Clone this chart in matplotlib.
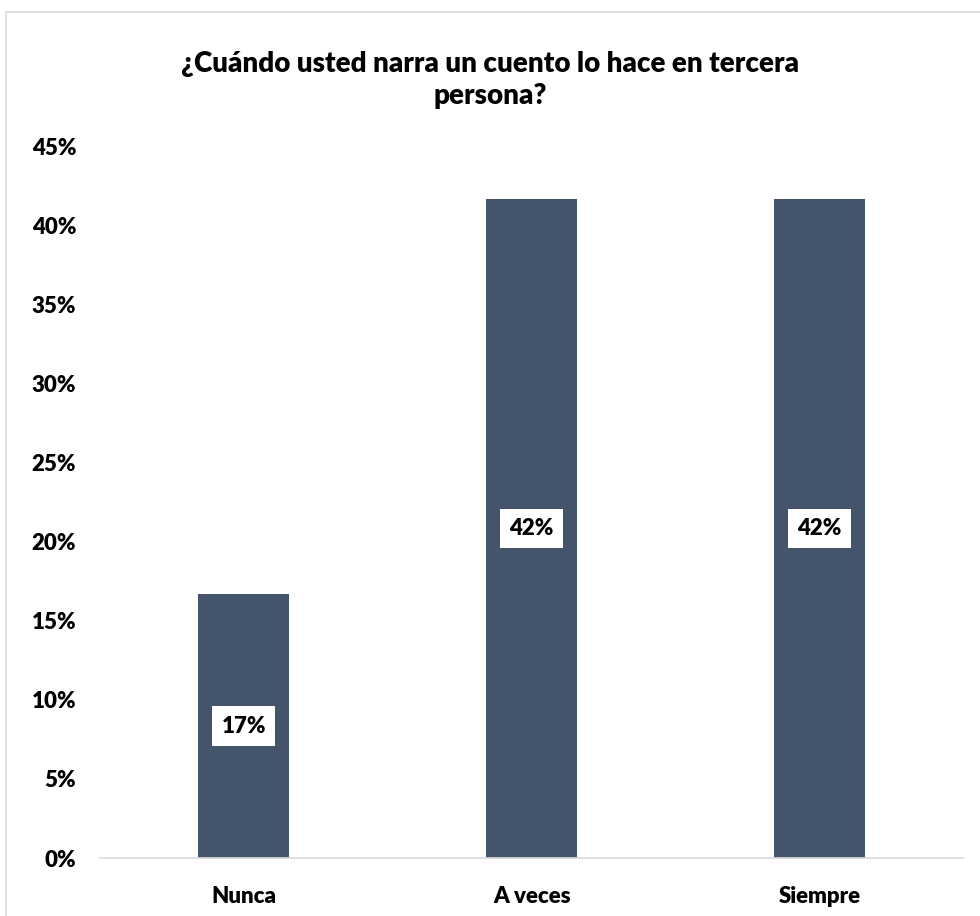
import matplotlib.pyplot as plt
from matplotlib.patches import Rectangle
from matplotlib.ticker import PercentFormatter

categories = ["Nunca", "A veces", "Siempre"]
values = [16.67, 41.67, 41.67]
labels = ["17%", "42%", "42%"]
yticks = [0, 5, 10, 15, 20, 25, 30, 35, 40, 45]

plt.rcParams['font.family'] = ['Lato', 'DejaVu Sans']
W = "heavy"

fig = plt.figure(figsize=(9.8, 9.16), dpi=100)
ax = fig.add_axes([0.102, 0.0633, 0.881, 0.7773])

# outer chart frame (cut by the image edges on right and bottom)
fig.patches.append(Rectangle((6 / 980, -0.1), 1.2, 1.1 - 12 / 916,
                             transform=fig.transFigure, fill=False,
                             edgecolor="#D9D9D9", linewidth=1.2))

x = range(len(categories))
bars = ax.bar(x, values, width=0.316, color="#44546A")

for b, lab in zip(bars, labels):
    ax.text(b.get_x() + b.get_width() / 2, b.get_height() / 2, lab,
            ha="center", va="center", fontsize=16, fontweight=W,
            color="black",
            bbox=dict(boxstyle="square,pad=0.42", facecolor="white", edgecolor="none"))

ax.set_xlim(-0.5, 2.5)
ax.set_ylim(0, 45)
ax.set_yticks(yticks)
ax.yaxis.set_major_formatter(PercentFormatter(decimals=0))
ax.set_xticks(list(x))
ax.set_xticklabels(categories)
ax.tick_params(axis="both", length=0, labelsize=16)
ax.tick_params(axis="y", pad=17)
ax.tick_params(axis="x", pad=20)
for t in ax.get_xticklabels() + ax.get_yticklabels():
    t.set_fontweight(W)

for s in ["top", "right", "left"]:
    ax.spines[s].set_visible(False)
ax.spines["bottom"].set_color("#D9D9D9")
ax.spines["bottom"].set_linewidth(1.2)

fig.text(0.5, 0.913, "¿Cuándo usted narra un cuento lo hace en tercera\npersona?",
         ha="center", va="center", fontsize=20, fontweight=W,
         linespacing=1.3)

fig.savefig("out.png", dpi=100)
